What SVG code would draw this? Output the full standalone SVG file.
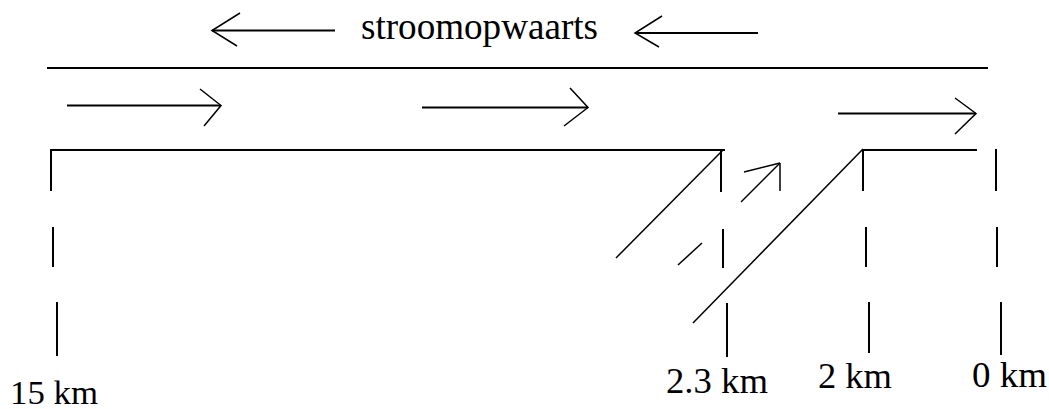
<svg xmlns="http://www.w3.org/2000/svg" width="1049" height="409" viewBox="0 0 1049 409">
<style>
.ln{stroke:#000;stroke-width:2;fill:none;stroke-linecap:butt}
.bb{stroke:#000;stroke-width:1.5;fill:none;stroke-linejoin:miter}
.th{stroke:#000;stroke-width:1.5;fill:none}
.tx{font-family:"Liberation Serif","Times New Roman",serif;fill:#000}
</style>
<rect width="1049" height="409" fill="#fff"/>
<g id="top-label">
<path class="ln" d="M212 30.5 H335"/>
<path class="bb" d="M240 13 L212 30.5 L237 46"/>
<text class="tx" x="361" y="38.5" font-size="37" textLength="237" lengthAdjust="spacingAndGlyphs">stroomopwaarts</text>
<path class="ln" d="M635 33 H758"/>
<path class="bb" d="M662 16 L635 33 L659 47"/>
</g>
<g id="banks">
<path class="ln" d="M47 68 H988"/>
<path class="ln" d="M50 150 H725"/>
<path class="ln" d="M863 150 H977"/>
</g>
<g id="flow-arrows">
<path class="ln" d="M67 105.5 H221"/>
<path class="bb" d="M200 89 L221 105.5 L204 126"/>
<path class="ln" d="M422 107.5 H588"/>
<path class="bb" d="M570 88 L588 107.5 L564 126"/>
<path class="ln" d="M838 113.5 H976"/>
<path class="bb" d="M955 98 L976 113.5 L955 134"/>
</g>
<g id="tributary">
<path class="th" d="M616 258 L723 150"/>
<path class="th" d="M678 265 L702 243"/>
<path class="th" d="M741 202 L780 163"/>
<path class="th" d="M744 172 L780 163 M780 163 V191"/>
<path class="th" d="M693 323 L863 149"/>
</g>
<g id="markers">
<path class="ln" d="M51 150 V191 M53 227 V267 M57 302 V356"/>
<path class="ln" d="M721 150 V192 M723 229 V268 M727 303 V357"/>
<path class="ln" d="M863 150 V191 M866 227 V267 M869 302 V353"/>
<path class="ln" d="M996 149 V191 M997 227 V267 M1001 302 V355"/>
</g>
<g id="labels">
<text class="tx" x="10" y="404" font-size="34" textLength="88" lengthAdjust="spacingAndGlyphs">15 km</text>
<text class="tx" x="666" y="393" font-size="35" textLength="102" lengthAdjust="spacingAndGlyphs">2.3 km</text>
<text class="tx" x="818" y="388" font-size="35" textLength="74" lengthAdjust="spacingAndGlyphs">2 km</text>
<text class="tx" x="972" y="386.5" font-size="35" textLength="75" lengthAdjust="spacingAndGlyphs">0 km</text>
</g>
</svg>
